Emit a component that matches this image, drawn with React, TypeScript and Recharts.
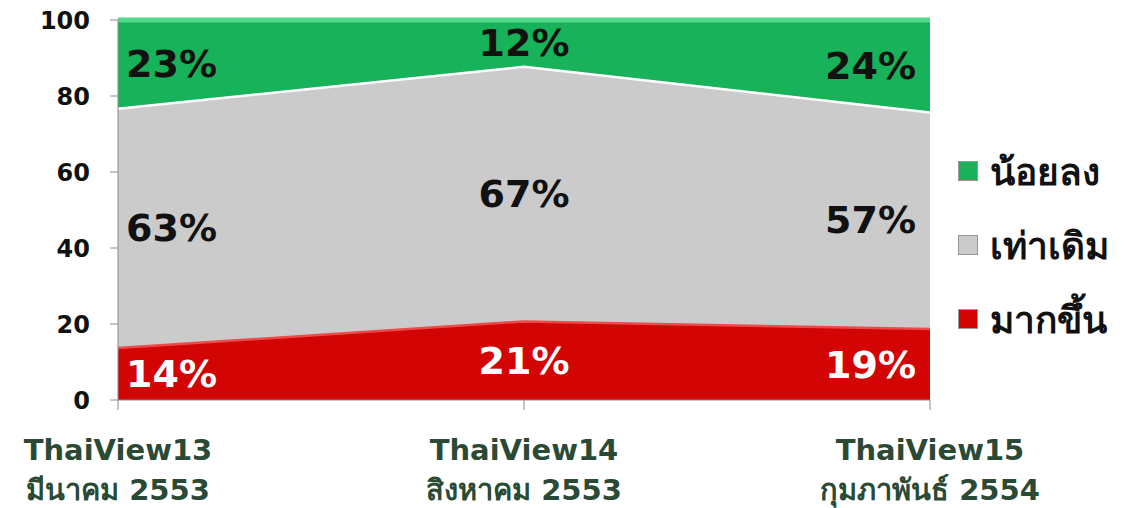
import { AreaChart, Area, XAxis, YAxis, LabelList } from 'recharts';

const periods = ['ThaiView13', 'ThaiView14', 'ThaiView15'];
const periodDates = ['มีนาคม 2553', 'สิงหาคม 2553', 'กุมภาพันธ์ 2554'];
const more = [14, 21, 19];
const same = [63, 67, 57];
const less = [23, 12, 24];
const yTicks = [0, 20, 40, 60, 80, 100];

const data = periods.map((p, i) => ({
  name: p,
  date: periodDates[i],
  more: more[i],
  same: same[i],
  less: less[i],
}));

const series = [
  { key: 'less', name: 'น้อยลง', fill: '#17b25a', stroke: '#4fd98a', text: '#111', values: less },
  { key: 'same', name: 'เท่าเดิม', fill: '#cbcbcb', stroke: '#ffffff', text: '#111', values: same },
  { key: 'more', name: 'มากขึ้น', fill: '#d20404', stroke: '#ee4a4a', text: '#ffffff', values: more },
];

const W = 1132;
const H = 508;
const TOP = 20;
const BOTTOM = 108;
const PX_PER_UNIT = (H - TOP - BOTTOM) / 100;
const font = '"DejaVu Sans", Tahoma, sans-serif';

const makeLabel = (values: number[], color: string) => (props: any) => {
  const { x, y, index } = props;
  const v = values[index];
  const cy = y + (v * PX_PER_UNIT) / 2;
  const anchor = index === 0 ? 'start' : index === values.length - 1 ? 'end' : 'middle';
  const dx = index === 0 ? 8 : index === values.length - 1 ? -14 : 0;
  return (
    <text x={x + dx} y={cy} dy="0.36em" textAnchor={anchor} fill={color}
      fontSize={38} fontWeight="bold" fontFamily={font}>
      {v}%
    </text>
  );
};

const XTick = (props: any) => {
  const { x, y, payload, index } = props;
  return (
    <g>
      <text x={x} y={y + 48} textAnchor="middle" fill="#2b4a36" fontSize={29}
        fontWeight="bold" fontFamily={font}>{payload.value}</text>
      <text x={x} y={y + 88} textAnchor="middle" fill="#2b4a36" fontSize={29}
        fontWeight="bold" fontFamily={font}>{periodDates[index]}</text>
    </g>
  );
};

const LegendBox = () => (
  <div style={{ position: 'absolute', left: 958, top: 134, fontFamily: font }}>
    {series.map((s) => (
      <div key={s.key} style={{ display: 'flex', alignItems: 'center', height: 74 }}>
        <span style={{ display: 'inline-block', width: 18, height: 18, background: s.fill,
          border: '1px solid #999', marginRight: 12 }} />
        <span style={{ fontSize: 37, fontWeight: 'bold', color: '#111' }}>{s.name}</span>
      </div>
    ))}
  </div>
);

export default function App() {
  return (
    <div style={{ position: 'absolute', left: 0, top: 0, width: W, height: H, background: '#fff' }}>
      <AreaChart width={W} height={H} data={data}
        margin={{ top: TOP, right: 202, left: 0, bottom: 0 }}>
        <XAxis dataKey="name" height={BOTTOM} tick={<XTick />} tickSize={10}
          axisLine={{ stroke: '#8c8c8c' }} tickLine={{ stroke: '#8c8c8c' }} interval={0} />
        <YAxis width={118} domain={[0, 100]} ticks={yTicks} tickSize={8} tickMargin={20}
          axisLine={{ stroke: '#8c8c8c' }} tickLine={{ stroke: '#8c8c8c' }}
          tick={{ fill: '#111', fontSize: 24, fontWeight: 'bold', fontFamily: font }} />
        {[...series].reverse().map((s) => (
          <Area key={s.key} type="linear" dataKey={s.key} name={s.name} stackId="1"
            fill={s.fill} fillOpacity={1} stroke={s.stroke} strokeWidth={5}
            isAnimationActive={false}>
            <LabelList dataKey={s.key} content={makeLabel(s.values, s.text)} />
          </Area>
        ))}
      </AreaChart>
      <LegendBox />
    </div>
  );
}
